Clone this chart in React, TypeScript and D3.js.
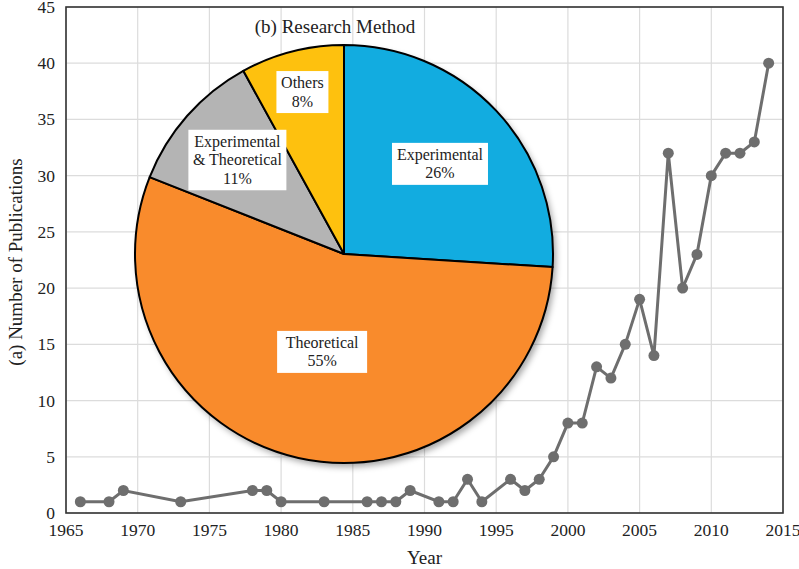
import React from "react";
import * as d3 from "d3";

const years = [1966, 1968, 1969, 1973, 1978, 1979, 1980, 1983, 1986, 1987, 1988, 1989, 1991, 1992, 1993, 1994, 1996, 1997, 1998, 1999, 2000, 2001, 2002, 2003, 2004, 2005, 2006, 2007, 2008, 2009, 2010, 2011, 2012, 2013, 2014];
const publications = [1, 1, 2, 1, 2, 2, 1, 1, 1, 1, 1, 2, 1, 1, 3, 1, 3, 2, 3, 5, 8, 8, 13, 12, 15, 19, 14, 32, 20, 23, 30, 32, 32, 33, 40];
const xTicks = [1965, 1970, 1975, 1980, 1985, 1990, 1995, 2000, 2005, 2010, 2015];
const yTicks = [0, 5, 10, 15, 20, 25, 30, 35, 40, 45];

const methods = ["Experimental", "Theoretical", "Experimental & Theoretical", "Others"];
const methodShares = [26, 55, 11, 8];
const methodLabelLines = [["Experimental", "26%"], ["Theoretical", "55%"], ["Experimental", "& Theoretical", "11%"], ["Others", "8%"]];
const methodColors = ["#12ACE0", "#F98B2C", "#B4B4B4", "#FEC10E"];
const labelRadiusFrac = [0.63, 0.48, 0.68, 0.8];
const labelBoxWidth = [96, 90, 98, 52];

const W = 799, H = 569;
const M = { left: 66, right: 16, top: 7, bottom: 56 };
const FONT = "Liberation Serif, Times New Roman, DejaVu Serif, serif";
const TS: React.CSSProperties = { fontFamily: FONT };

export default function App() {
  const x = d3.scaleLinear().domain([1965, 2015]).range([M.left, W - M.right]);
  const y = d3.scaleLinear().domain([0, 45]).range([H - M.bottom, M.top]);
  const line = d3.line<number>().x((_, i) => x(years[i])).y((d) => y(d));

  const cx = 344, cy = 254, r = 209;
  const pie = d3.pie<number>().sort(null).value((d) => d);
  const arcs = pie(methodShares);
  const arc = d3.arc<d3.PieArcDatum<number>>().innerRadius(0).outerRadius(r);

  const lineH = 18.5;

  return (
    <svg width={W} height={H} style={{ position: "absolute", left: 0, top: 0, background: "#fff", fontFamily: FONT }}>
      <defs>
        <filter id="shadow" x="-20%" y="-20%" width="140%" height="140%">
          <feDropShadow dx="3" dy="4" stdDeviation="3" floodColor="#000" floodOpacity="0.35" />
        </filter>
      </defs>
      <rect width={W} height={H} fill="#fff" />
      {xTicks.map((t) => (
        <line key={"gx" + t} x1={x(t)} x2={x(t)} y1={y(45)} y2={y(0)} stroke="#DCDCDC" strokeWidth={1.2} />
      ))}
      {yTicks.map((t) => (
        <line key={"gy" + t} x1={x(1965)} x2={x(2015)} y1={y(t)} y2={y(t)} stroke="#DCDCDC" strokeWidth={1.2} />
      ))}
      <rect x={x(1965)} y={y(45)} width={x(2015) - x(1965)} height={y(0) - y(45)} fill="none" stroke="#333" strokeWidth={1.6} />
      {xTicks.map((t) => (
        <text key={"tx" + t} style={TS} x={x(t)} y={y(0) + 23} textAnchor="middle" fontSize={17.5} fill="#222">{t}</text>
      ))}
      {yTicks.map((t) => (
        <text key={"ty" + t} style={TS} x={x(1965) - 11} y={y(t) + 6} textAnchor="end" fontSize={17.5} fill="#222">{t}</text>
      ))}
      <text style={TS} x={(x(1965) + x(2015)) / 2} y={H - 5} textAnchor="middle" fontSize={19} fill="#222">Year</text>
      <text style={TS} transform={`translate(22, ${(y(0) + y(45)) / 2 + 2}) rotate(-90)`} textAnchor="middle" fontSize={19} fill="#222">(a) Number of Publications</text>

      <path d={line(publications) || ""} fill="none" stroke="#6E6E6E" strokeWidth={3} />
      {publications.map((v, i) => (
        <circle key={"p" + i} cx={x(years[i])} cy={y(v)} r={5.5} fill="#6E6E6E" />
      ))}

      <g transform={`translate(${cx},${cy})`}>
        <circle r={r} fill="#000" filter="url(#shadow)" />
        {arcs.map((a, i) => (
          <path key={"s" + i} d={arc(a) || ""} fill={methodColors[i]} stroke="#000" strokeWidth={2} strokeLinejoin="round" />
        ))}
        {arcs.map((a, i) => {
          const mid = (a.startAngle + a.endAngle) / 2;
          const rr = r * labelRadiusFrac[i];
          const lx = Math.sin(mid) * rr;
          const ly = -Math.cos(mid) * rr;
          const lines = methodLabelLines[i];
          const bh = lines.length * lineH + 5;
          const bw = labelBoxWidth[i];
          return (
            <g key={"l" + i} aria-label={methods[i]}>
              <rect x={lx - bw / 2} y={ly - bh / 2} width={bw} height={bh} fill="#fff" />
              {lines.map((s, j) => (
                <text key={j} style={TS} x={lx} y={ly - bh / 2 + 2.5 + lineH * j + 14.5} textAnchor="middle" fontSize={16} fill="#222">{s}</text>
              ))}
            </g>
          );
        })}
      </g>
      <text style={TS} x={335} y={33} textAnchor="middle" fontSize={19} fill="#222">(b) Research Method</text>
    </svg>
  );
}
